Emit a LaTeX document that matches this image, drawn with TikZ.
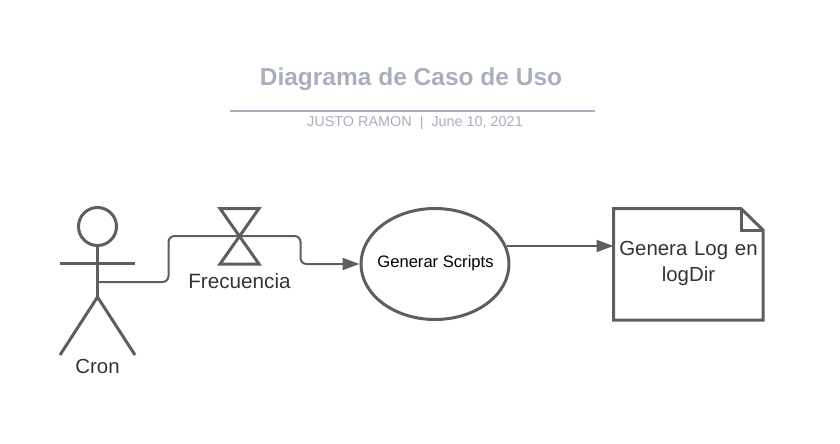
\documentclass[tikz,border=0pt]{standalone}
\usepackage{fontspec}
\setmainfont{Liberation Sans}
\usetikzlibrary{shapes.geometric,arrows.meta,calc}
\definecolor{lineGray}{HTML}{5E5E5E}
\definecolor{titleGray}{HTML}{A9AFBC}
\definecolor{textGray}{HTML}{333333}
\tikzset{
  shapeline/.style={draw=lineGray,line width=3pt},
  conn/.style={draw=lineGray,line width=2pt,rounded corners=6pt,-{Triangle[length=17pt,width=12pt,fill=lineGray]}},
  lab/.style={font=\fontsize{20.4}{26}\selectfont,text=textGray,align=center,inner sep=0pt},
}
\begin{document}
\begin{tikzpicture}[x=1pt,y=-1pt]
\useasboundingbox (0,0) rectangle (840,444);
% title block
\node[font=\fontsize{24.5}{28}\selectfont\bfseries,text=titleGray,inner sep=0pt] (title) at (411,79) {Diagrama de Caso de Uso};
\coordinate (ruleL) at (230,110.5);
\coordinate (ruleR) at (595,110.5);
\draw[titleGray,line width=2pt] (ruleL) -- (ruleR);
\node[font=\fontsize{14.4}{18}\selectfont,text=titleGray,inner sep=0pt] (sub) at (415,123) {JUSTO RAMON~~|~~June 10, 2021};
% actor
\node[shapeline,circle,minimum size=38pt,inner sep=0pt] (head) at (97.5,226.5) {};
\coordinate (armL) at (60,263.5);
\coordinate (armR) at (135,263.5);
\coordinate (hip) at (97.5,297);
\coordinate (waist) at (97.5,282);
\coordinate (footL) at (60,355);
\coordinate (footR) at (135,355);
\draw[shapeline] (head.south) -- (hip);
\draw[shapeline] (armL) -- (armR);
\draw[shapeline,line join=miter] (footL) -- (hip) -- (footR);
\node[lab] (cron) at (97.5,366) {Cron};
% hourglass
\coordinate (hgA) at (220,208.5);
\coordinate (hgB) at (259,208.5);
\coordinate (hgC) at (220,264);
\coordinate (hgD) at (259,264);
\draw[shapeline,line join=miter] (hgA) -- (hgB) -- (hgC) -- (hgD) -- cycle;
\node[lab,font=\fontsize{20.7}{26}\selectfont] (freq) at (239.5,281) {Frecuencia};
% use case
\node[shapeline,ellipse,minimum width=148pt,minimum height=111pt,inner sep=0pt] (uc) at (435,264) {};
\node[font=\fontsize{16.6}{20}\selectfont,text=black,inner sep=0pt] (uclabel) at (435.5,263.5) {Generar Scripts};
% document
\coordinate (dTL) at (613.5,208.5);
\coordinate (dF1) at (741,208.5);
\coordinate (dF2) at (763,230);
\coordinate (dF3) at (741,230);
\coordinate (dBR) at (763,320);
\coordinate (dBL) at (613.5,320);
\draw[shapeline,line join=miter] (dTL) -- (dF1) -- (dF2) -- (dBR) -- (dBL) -- cycle;
\draw[shapeline,line join=miter] (dF1) -- (dF3) -- (dF2);
\node[lab,text width=150pt] (doc) at (688.5,263.5) {Genera Log en\\logDir};
% connectors
\coordinate (b1) at (168.5,282);
\coordinate (b2) at (168.5,236);
\coordinate (b3) at (300.5,236);
\coordinate (b4) at (300.5,264);
\draw[conn] (waist) -- (b1) -- (b2) -- (b3) -- (b4) -- (uc.west);
\coordinate (o1) at (uc.east |- 0,246);
\coordinate (d1) at (dTL |- 0,246);
\draw[conn] ($(o1)+(-4,0)$) -- (d1);
\end{tikzpicture}
\end{document}
